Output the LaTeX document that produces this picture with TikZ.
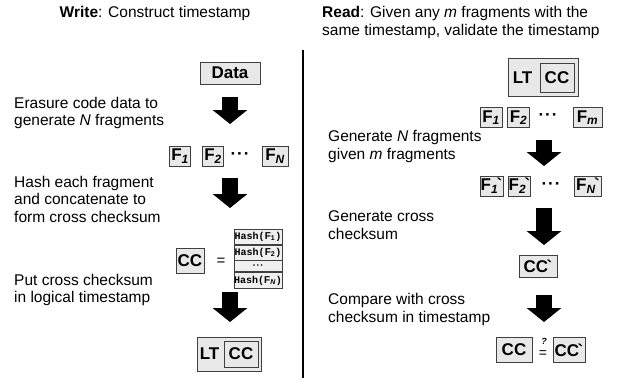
\documentclass[tikz,border=0pt]{standalone}
\usepackage{fontspec}
\setmainfont{Liberation Sans}
\setmonofont{Liberation Mono}
\usetikzlibrary{arrows.meta}
\tikzset{
 box/.style={draw=black!75, fill=black!9, line width=0.8pt, inner sep=1pt, font=\fontsize{17}{17}\selectfont\bfseries},
 fragbox/.style={box, minimum width=21, minimum height=20, inner sep=0.5pt},
 lbl/.style={anchor=base west, align=left, inner sep=0pt, font=\fontsize{15.5}{17.5}\selectfont},
 blockarrow/.style={line width=16pt, -{Triangle[width=34pt,length=14pt]}},
 hrow/.style={draw=black!75, fill=black!6, line width=0.7pt, minimum width=48, inner sep=0pt, font=\fontsize{10}{10}\selectfont\ttfamily\bfseries},
 dotsnode/.style={inner sep=0pt, font=\fontsize{17}{17}\selectfont\bfseries},
}
\newcommand{\gr}{\kern-1.5pt\textasciigrave}
\newcommand{\hf}[1]{Hash({\rmfamily F}\textsubscript{\rmfamily #1})}
\newcommand{\tdots}{\textperiodcentered\kern1pt\textperiodcentered\kern1pt\textperiodcentered}
\begin{document}
\begin{tikzpicture}[x=1pt,y=-1pt]
\useasboundingbox (0,0) rectangle (618,381);
% titles
\node[anchor=base, inner sep=0pt, font=\fontsize{15.5}{17.5}\selectfont] (tw) at (155,17) {\textbf{Write}: Construct timestamp};
\node[lbl, font=\fontsize{15.5}{18}\selectfont] (tr) at (322,35) {\textbf{Read}: Given any \textit{m} fragments with the\\same timestamp, validate the timestamp};
% divider
\coordinate (dtop) at (303,50);
\coordinate (dbot) at (303,378);
\draw[line width=2pt] (dtop) -- (dbot);
% ---------- left column
\node[box, minimum width=60, minimum height=22] (data) at (230,73) {Data};
\node[lbl] (t1) at (14,125.5) {Erasure code data to\\generate \textit{N} fragments};
\coordinate (l1s) at (230,97); \coordinate (l1e) at (230,124);
\draw[blockarrow] (l1s) -- (l1e);
\node[fragbox] (lf1) at (180,156) {F\textsubscript{\itshape 1}};
\node[fragbox] (lf2) at (213,156) {F\textsubscript{\itshape 2}};
\node[dotsnode] (ld) at (240,156) {\tdots};
\node[fragbox, minimum width=26] (lfn) at (275,156) {F\textsubscript{\itshape N}};
\node[lbl] (t2) at (14,222) {Hash each fragment\\and concatenate to\\form cross checksum};
\coordinate (l2s) at (230,178); \coordinate (l2e) at (230,208);
\draw[blockarrow] (l2s) -- (l2e);
\node[hrow, minimum height=15, anchor=north] (h1) at (258,229) {\hf{1}};
\node[hrow, minimum height=15, anchor=north] (h2) at (h1.south) {\hf{2}};
\node[hrow, minimum height=11, anchor=north, font=\fontsize{6}{6}\selectfont] (h3) at (h2.south) {\textbullet\ \textbullet\ \textbullet};
\node[hrow, minimum height=16, anchor=north] (h4) at (h3.south) {\hf{\itshape N}};
\node[box, minimum width=28, minimum height=25] (lcc) at (190,261) {CC};
\node[inner sep=0pt, font=\fontsize{15}{15}\selectfont] (eq) at (221,262) {=};
\node[lbl] (t3) at (14,302.5) {Put cross checksum\\in logical timestamp};
\coordinate (l3s) at (230,292); \coordinate (l3e) at (230,322);
\draw[blockarrow] (l3s) -- (l3e);
\node[box, minimum width=64, minimum height=34] (llt) at (229,354) {};
\node[anchor=west, inner sep=0pt, font=\fontsize{17}{17}\selectfont\bfseries] (lltt) at ([xshift=3]llt.west) {LT};
\node[box, minimum width=34, minimum height=26, anchor=east] (lltcc) at ([xshift=-3]llt.east) {CC};
% ---------- right column
\node[box, minimum width=70, minimum height=38] (rlt) at (543,77.5) {};
\node[anchor=west, inner sep=0pt, font=\fontsize{17}{17}\selectfont\bfseries] (rltt) at ([xshift=5]rlt.west) {LT};
\node[box, minimum width=34, minimum height=29, anchor=east] (rltcc) at ([xshift=-4]rlt.east) {CC};
\node[fragbox, minimum width=22] (rf1) at (491,117.5) {F\textsubscript{\itshape 1}};
\node[fragbox, minimum width=22] (rf2) at (518.5,117.5) {F\textsubscript{\itshape 2}};
\node[dotsnode] (rd1) at (548,117.5) {\tdots};
\node[fragbox, minimum width=29] (rfm) at (587.5,117.5) {F\textsubscript{\itshape m}};
\node[lbl] (t4) at (328,159) {Generate \textit{N} fragments\\given \textit{m} fragments};
\coordinate (r1s) at (544,140); \coordinate (r1e) at (544,166);
\draw[blockarrow] (r1s) -- (r1e);
\node[fragbox, minimum width=23] (rg1) at (491.5,186) {F\textsubscript{\itshape 1}\gr};
\node[fragbox, minimum width=22] (rg2) at (519.5,186) {F\textsubscript{\itshape 2}\gr};
\node[dotsnode] (rd2) at (551,186) {\tdots};
\node[fragbox, minimum width=27] (rgn) at (588,186) {F\textsubscript{\itshape N}\gr};
\node[lbl] (t5) at (328,239) {Generate cross\\checksum};
\coordinate (r2s) at (544,208); \coordinate (r2e) at (544,245);
\draw[blockarrow] (r2s) -- (r2e);
\node[box, minimum width=38, minimum height=22] (rccp) at (538,266) {CC\gr};
\node[lbl] (t6) at (328,322) {Compare with cross\\checksum in timestamp};
\coordinate (r3s) at (544,295); \coordinate (r3e) at (544,322);
\draw[blockarrow] (r3s) -- (r3e);
\node[box, minimum width=36, minimum height=25] (rcc) at (514,350) {CC};
\node[inner sep=0pt, font=\fontsize{14}{14}\selectfont] (req) at (543,354) {=};
\node[inner sep=0pt, font=\fontsize{9}{9}\selectfont\bfseries\itshape] (rq) at (544,341) {?};
\node[box, minimum width=32, minimum height=25] (rccq) at (569,350) {CC\gr};
\end{tikzpicture}
\end{document}
